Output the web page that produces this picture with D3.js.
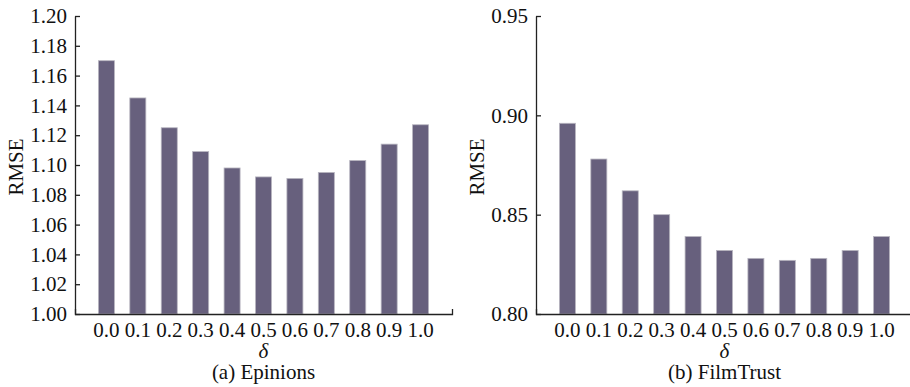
<!DOCTYPE html>
<html>
<head>
    <meta charset="utf-8">
    <script src="https://d3js.org/d3.v7.min.js"></script>
    <style>
        body {
            margin: 0;
            background: #fff;
        }

        .axis path,
        .axis line {
            stroke: #222;
            stroke-width: 1.3px;
        }

        .bar {
            fill: #67607d;
            stroke: #b8b6c0;
            stroke-width: 0.8px;
        }
    </style>
</head>
<body>
    <script>
        // delta values on the x axis
        const deltas = ["0.0", "0.1", "0.2", "0.3", "0.4", "0.5", "0.6", "0.7", "0.8", "0.9", "1.0"];

        // RMSE
        const epinionsRmse = [1.170, 1.145, 1.125, 1.109, 1.098, 1.092, 1.091, 1.095, 1.103, 1.114, 1.127];
        const filmTrustRmse = [0.896, 0.878, 0.862, 0.850, 0.839, 0.832, 0.828, 0.827, 0.828, 0.832, 0.839];

        const epinionsTicks = [1.00, 1.02, 1.04, 1.06, 1.08, 1.10, 1.12, 1.14, 1.16, 1.18, 1.20];
        const filmTrustTicks = [0.80, 0.85, 0.90, 0.95];

        const width = 910, height = 387;
        const plotTop = 16, plotBottom = 314;
        const serif = "'Liberation Serif', Tinos, 'Times New Roman', 'DejaVu Serif', serif";
        const fontSize = 21;

        const svg = d3.select("body").append("svg")
            .attr("width", width)
            .attr("height", height)
            .attr("font-family", serif);

        function panel(x0, values, domain, ticks, caption) {
            const g = svg.append("g");

            const x = d3.scaleBand()
                .domain(deltas)
                .range([x0, x0 + 377])
                .paddingInner(0.49)
                .paddingOuter(0.745);

            const y = d3.scaleLinear()
                .domain(domain)
                .range([plotBottom, plotTop]);

            g.append("g")
                .selectAll("rect")
                .data(values)
                .enter().append("rect")
                .attr("class", "bar")
                .attr("x", (d, i) => x(deltas[i]))
                .attr("y", d => y(d))
                .attr("width", x.bandwidth())
                .attr("height", d => y(domain[0]) - y(d));

            g.append("g")
                .attr("class", "axis")
                .attr("transform", `translate(0,${plotBottom})`)
                .call(d3.axisBottom(x).tickSize(0).tickSizeOuter(-5).tickPadding(8))
                .attr("font-family", serif)
                .attr("font-size", fontSize)
                .call(a => a.selectAll("text").attr("fill", "#111"));

            g.append("g")
                .attr("class", "axis")
                .attr("transform", `translate(${x0},0)`)
                .call(d3.axisLeft(y).tickValues(ticks).tickFormat(d3.format(".2f"))
                    .tickSize(-5).tickSizeOuter(0).tickPadding(8))
                .attr("font-family", serif)
                .attr("font-size", fontSize)
                .call(a => a.selectAll("text").attr("fill", "#111"));

            g.append("text")
                .attr("transform", `translate(${x0 - 52},167) rotate(-90)`)
                .attr("text-anchor", "middle")
                .attr("font-size", fontSize)
                .attr("fill", "#111")
                .text("RMSE");

            const cx = (x(deltas[0]) + x(deltas[deltas.length - 1]) + x.bandwidth()) / 2;

            g.append("text")
                .attr("x", cx)
                .attr("y", 358)
                .attr("text-anchor", "middle")
                .attr("font-size", fontSize)
                .attr("font-style", "italic")
                .attr("fill", "#111")
                .text("δ");

            g.append("text")
                .attr("x", cx)
                .attr("y", 379)
                .attr("text-anchor", "middle")
                .attr("font-size", fontSize)
                .attr("fill", "#111")
                .text(caption);
        }

        panel(75, epinionsRmse, [1.00, 1.20], epinionsTicks, "(a) Epinions");
        panel(536, filmTrustRmse, [0.80, 0.95], filmTrustTicks, "(b) FilmTrust");
    </script>
</body>
</html>
